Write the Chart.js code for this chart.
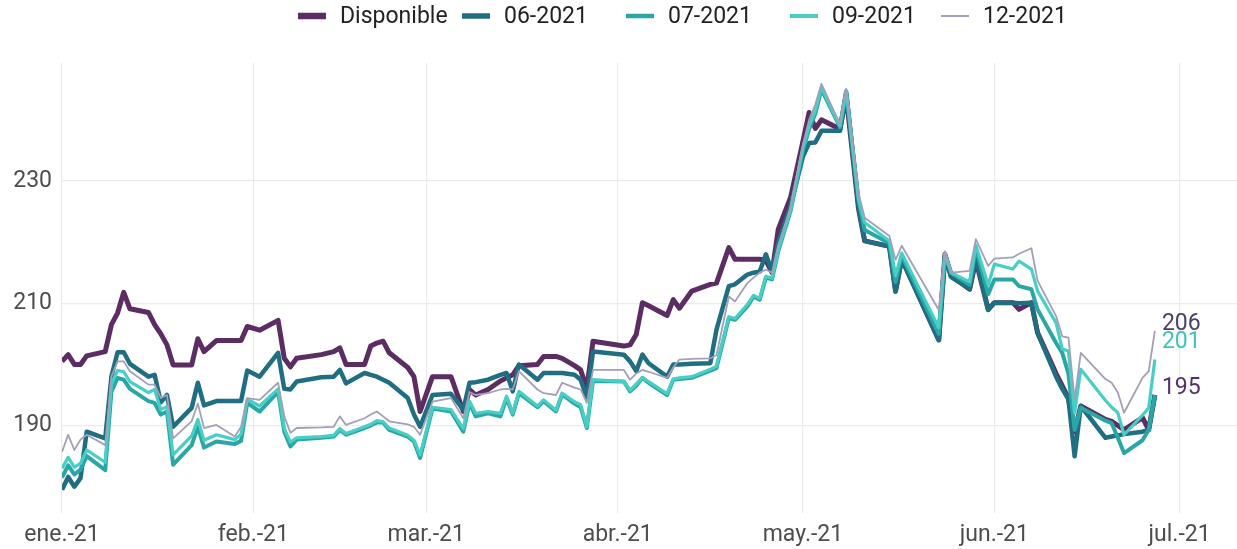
<!DOCTYPE html>
<html>
<head>
<meta charset="utf-8">
<script src="https://cdn.jsdelivr.net/npm/chart.js@4.4.1/dist/chart.umd.min.js"></script>
<style>
  html, body { margin: 0; padding: 0; background: #fff; }
  #wrap { width: 1237px; height: 549px; }
</style>
</head>
<body>
<div id="wrap"><canvas id="chart" width="1237" height="549"></canvas></div>
<script>
// días desde el 1 de enero de 2021
const days = [0,1,2,3,4,7,8,9,10,11,
  14,15,16,17,18,21,22,23,25,28,
  29,30,32,35,36,37,38,42,44,45,
  46,49,50,51,52,53,56,57,58,60,
  63,65,66,67,69,71,72,73,74,77,
  78,80,81,83,84,85,86,91,92,93,
  94,95,98,99,100,102,105,106,108,109,
  111,112,113,114,115,116,118,120,121,122,
  123,126,127,129,130,134,135,136,142,143,
  144,147,148,150,151,154,155,157,158,161,
  162,163,164,165,169,170,171,172,175,176,
  177];

const disponible = [200.5,201.6,200.0,200.0,201.4,202.1,206.5,208.4,211.8,209.1,
  208.5,206.5,205.0,203.2,199.9,199.9,204.2,202.1,203.9,203.9,
  203.9,206.2,205.6,207.2,201.0,199.6,201.0,201.6,202.1,202.7,
  200.0,200.0,203.0,203.5,203.8,201.9,199.5,198.0,192.3,198.0,
  198.0,192.3,195.9,195.0,195.9,197.3,197.8,198.3,199.8,200.0,
  201.3,201.3,201.0,199.8,199.1,196.0,203.8,203.0,203.2,204.9,
  210.1,209.6,208.0,210.6,209.2,212.0,213.1,213.3,219.1,217.2,
  217.2,217.2,217.2,217.0,215.0,222.1,227.3,236.5,241.2,238.6,
  240.0,238.5,244.0,225.5,220.2,219.3,212.0,217.3,204.0,218.0,
  214.5,212.3,217.0,209.0,210.1,210.1,209.0,210.1,205.2,198.5,
  196.5,194.5,189.0,193.2,191.0,190.7,190.0,189.3,191.3,189.3,
  195.0];

const f0621 = [179.5,181.6,180.0,181.4,189.0,187.9,198.0,202.0,202.0,200.1,
  198.0,198.3,193.8,195.0,189.8,192.9,197.0,193.3,194.0,194.0,
  194.0,199.0,198.0,201.9,196.0,195.9,197.2,197.9,198.0,199.1,
  196.9,198.6,198.3,198.0,197.5,197.0,194.5,191.8,189.8,195.0,
  195.2,192.6,197.0,197.1,197.5,198.3,198.6,195.6,200.0,197.5,
  198.6,198.6,198.6,198.3,197.5,194.5,202.1,201.6,200.5,198.9,
  201.6,200.2,198.0,200.0,200.0,200.1,200.2,205.7,212.8,213.1,
  214.7,215.0,215.2,218.0,215.2,219.9,225.9,234.0,236.2,236.3,
  238.2,238.2,244.5,225.9,220.2,219.3,211.9,217.2,204.0,217.6,
  214.3,212.4,217.5,208.9,210.1,210.1,210.0,210.1,205.2,198.0,
  196.0,194.3,185.0,193.2,188.0,188.2,188.4,188.6,189.0,189.3,
  195.0];

const f0721 = [181.5,183.5,182.0,182.8,185.0,182.7,195.5,197.8,197.5,196.0,
  194.0,193.7,191.8,192.3,183.6,186.8,189.8,186.4,187.4,187.0,
  187.5,193.7,192.3,195.5,189.0,186.6,187.7,188.0,188.2,189.3,
  188.5,189.6,190.0,190.5,190.5,189.3,188.2,187.4,184.7,192.8,
  192.3,189.0,193.7,191.5,192.0,191.5,194.5,191.8,195.3,193.0,
  194.0,192.3,195.1,193.6,193.0,189.6,197.3,197.2,195.6,196.5,
  197.8,197.0,195.0,197.5,197.6,197.8,199.0,199.4,207.6,207.3,
  209.5,211.1,210.6,214.2,213.9,218.5,225.1,235.0,238.5,241.0,
  245.0,238.8,244.7,227.0,222.0,219.8,213.5,217.8,205.0,218.0,
  215.0,213.0,219.0,211.5,213.9,213.9,212.8,212.3,209.0,203.5,
  201.9,198.5,189.3,192.9,190.8,190.4,188.0,185.5,187.6,189.3,
  195.0];

const f0921 = [183.0,184.8,183.2,183.8,186.0,184.0,196.8,199.0,198.8,197.2,
  195.4,195.9,192.6,193.1,185.2,188.3,191.0,187.6,188.5,187.7,
  188.6,194.3,193.2,196.0,189.5,187.3,188.0,188.2,188.4,189.5,
  188.7,189.8,190.2,190.8,190.6,189.6,188.4,187.6,185.2,193.0,
  192.6,189.5,194.0,192.0,192.3,192.0,194.8,192.0,195.6,193.2,
  194.2,192.5,195.3,193.9,193.4,189.8,197.5,197.2,195.8,196.8,
  197.8,197.2,195.2,197.6,197.8,198.0,199.2,199.7,207.8,207.5,
  209.8,211.3,210.8,214.4,214.1,218.7,225.3,235.5,239.0,241.5,
  245.3,239.0,244.8,227.0,223.2,220.2,214.5,218.2,206.0,218.2,
  215.0,213.5,219.5,213.0,216.4,215.6,216.9,215.6,212.0,206.8,
  202.5,202.2,192.1,199.2,194.1,193.0,192.1,188.5,191.7,192.9,
  200.8];

const f1221 = [185.7,188.5,186.0,187.7,188.5,186.8,198.0,200.5,200.5,198.9,
  196.7,196.7,194.5,195.0,187.9,190.7,193.6,189.6,190.1,188.2,
  189.8,194.5,194.2,197.0,191.5,188.8,189.6,189.7,189.8,191.5,
  190.1,191.2,191.8,192.3,191.5,190.7,190.2,189.8,188.5,193.9,
  194.5,191.2,195.5,195.0,195.3,195.9,196.0,195.9,198.9,195.9,
  195.3,195.0,197.0,196.2,195.9,193.7,199.1,199.1,197.5,198.5,
  199.1,198.8,197.8,199.5,200.8,200.9,201.0,201.5,211.1,210.3,
  213.3,214.2,215.0,215.5,215.0,219.5,225.6,236.0,240.0,242.5,
  245.9,239.3,245.1,228.0,224.0,221.0,217.1,219.4,208.9,218.5,
  215.0,215.3,220.5,216.1,217.3,217.5,218.1,219.0,213.7,207.9,
  204.6,204.4,194.3,201.9,197.6,197.0,195.4,192.1,197.8,198.9,
  205.5];

const seriesNames = ['Disponible', '06-2021', '07-2021', '09-2021', '12-2021'];
const seriesColors = ['#5c2d62', '#1f6e82', '#2ba6a6', '#47cfc5', '#a39fb8'];
const seriesWidths = [5, 4.5, 4, 3.2, 1.8];

const monthTicks = [0, 31, 59, 90, 120, 151, 181];
const monthLabels = ['ene.-21', 'feb.-21', 'mar.-21', 'abr.-21', 'may.-21', 'jun.-21', 'jul.-21'];
const yTicks = [190, 210, 230];

// etiquetas al final de la serie
const endLabelSeries = [0, 3, 4];
const endLabelText = ['195', '201', '206'];
const endLabelColors = ['#57306a', '#3ec4bb', '#4a4266'];
const endLabelNudge = [-7, -17, -7];

// leyenda dibujada a mano (posición de cada clave)
const legendKeyX = [298, 462, 626, 790, 941];
const legendKeyWidths = [6.5, 5.5, 4.5, 4, 2];

const allSeries = [disponible, f0621, f0721, f0921, f1221];

const datasets = allSeries.map((vals, i) => ({
  label: seriesNames[i],
  data: days.map((d, j) => ({ x: d, y: vals[j] })),
  borderColor: seriesColors[i],
  backgroundColor: seriesColors[i],
  borderWidth: seriesWidths[i],
  pointRadius: 0,
  tension: 0,
  borderJoinStyle: 'round',
  order: allSeries.length - i
}));

const legendPlugin = {
  id: 'manualLegend',
  afterDraw(chart) {
    const ctx = chart.ctx;
    ctx.save();
    ctx.font = '23px Roboto';
    ctx.textAlign = 'left';
    ctx.textBaseline = 'middle';
    seriesNames.forEach((name, i) => {
      const x0 = legendKeyX[i];
      ctx.strokeStyle = seriesColors[i];
      ctx.lineWidth = legendKeyWidths[i];
      ctx.beginPath();
      ctx.moveTo(x0, 16);
      ctx.lineTo(x0 + 28, 16);
      ctx.stroke();
      ctx.fillStyle = '#222';
      ctx.fillText(name, x0 + 42, 17);
    });
    ctx.restore();
  }
};

const endLabels = {
  id: 'endLabels',
  afterDatasetsDraw(chart) {
    const { ctx, scales } = chart;
    ctx.save();
    ctx.font = '23px Roboto';
    ctx.textAlign = 'left';
    ctx.textBaseline = 'middle';
    endLabelSeries.forEach((s, k) => {
      const pts = chart.data.datasets[s].data;
      const last = pts[pts.length - 1];
      const px = scales.x.getPixelForValue(last.x) + 7;
      const py = scales.y.getPixelForValue(last.y) + endLabelNudge[k];
      ctx.fillStyle = endLabelColors[k];
      ctx.fillText(endLabelText[k], px, py);
    });
    ctx.restore();
  }
};

new Chart(document.getElementById('chart'), {
  type: 'line',
  data: { datasets },
  options: {
    responsive: false,
    animation: false,
    layout: { padding: { top: 63, left: 0, right: 0, bottom: 0 } },
    plugins: {
      tooltip: { enabled: false },
      legend: { display: false }
    },
    scales: {
      x: {
        type: 'linear',
        min: 0,
        max: 190.3,
        afterBuildTicks: s => { s.ticks = monthTicks.map(v => ({ value: v })); },
        afterFit: s => { s.height = 36; },
        ticks: {
          callback: v => monthLabels[monthTicks.indexOf(v)],
          color: '#4d4d4d',
          font: { family: 'Roboto', size: 23 },
          padding: 8,
          maxRotation: 0,
          autoSkip: false
        },
        grid: { color: '#ebebeb', lineWidth: 1.2, drawTicks: false },
        border: { display: false }
      },
      y: {
        min: 175.7,
        max: 249.3,
        afterBuildTicks: s => { s.ticks = yTicks.map(v => ({ value: v })); },
        afterFit: s => { s.width = 62; },
        ticks: {
          color: '#4d4d4d',
          font: { family: 'Roboto', size: 23 },
          padding: 10
        },
        grid: { color: '#ebebeb', lineWidth: 1.2, drawTicks: false },
        border: { display: false }
      }
    }
  },
  plugins: [legendPlugin, endLabels]
});
</script>
</body>
</html>
